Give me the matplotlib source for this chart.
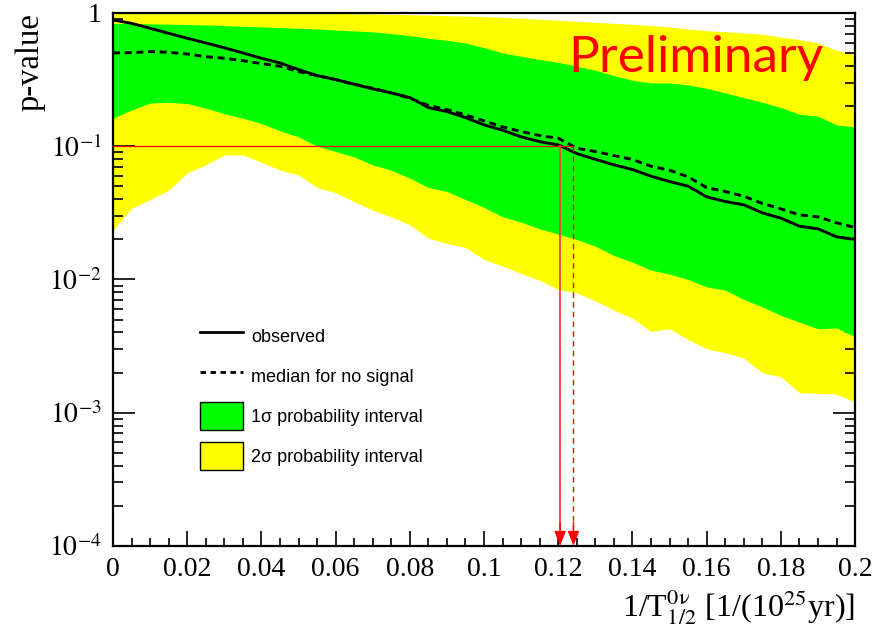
import numpy as np
import matplotlib
matplotlib.use("Agg")
import matplotlib.pyplot as plt
import matplotlib.patches as mpatches
from matplotlib.lines import Line2D

plt.rcParams["mathtext.fontset"] = "stix"
plt.rcParams["font.family"] = ["Liberation Serif", "DejaVu Serif"]

# ── data (log10 of p-value) ─────────────────────────────────────────────────
x = np.array([0.000, 0.005, 0.010, 0.015, 0.020, 0.025, 0.030, 0.035, 0.040,
              0.045, 0.050, 0.055, 0.060, 0.065, 0.070, 0.075, 0.080, 0.085,
              0.090, 0.095, 0.100, 0.105, 0.110, 0.115, 0.120, 0.125, 0.130,
              0.135, 0.140, 0.145, 0.150, 0.155, 0.160, 0.165, 0.170, 0.175,
              0.180, 0.185, 0.190, 0.195, 0.200])

obs_log = [-0.053, -0.078, -0.115, -0.153, -0.19, -0.225, -0.262, -0.30, -0.34,
           -0.375, -0.425, -0.47, -0.50, -0.535, -0.57, -0.60, -0.635, -0.71,
           -0.74, -0.785, -0.84, -0.88, -0.93, -0.966, -0.99, -1.055, -1.098,
           -1.14, -1.175, -1.225, -1.265, -1.30, -1.38, -1.415, -1.44, -1.50,
           -1.54, -1.60, -1.62, -1.68, -1.70]

med_log = [-0.30, -0.298, -0.29, -0.295, -0.308, -0.328, -0.34, -0.358, -0.38,
           -0.40, -0.44, -0.47, -0.50, -0.535, -0.565, -0.60, -0.64, -0.695,
           -0.725, -0.765, -0.81, -0.855, -0.89, -0.92, -0.94, -1.015, -1.04,
           -1.07, -1.10, -1.15, -1.18, -1.23, -1.31, -1.34, -1.375, -1.43,
           -1.47, -1.515, -1.53, -1.575, -1.61]

hi1_log = [-0.079, -0.08, -0.082, -0.084, -0.087, -0.09, -0.095, -0.10, -0.105,
           -0.11, -0.115, -0.12, -0.128, -0.135, -0.142, -0.155, -0.17, -0.19,
           -0.205, -0.225, -0.26, -0.30, -0.325, -0.35, -0.37, -0.40, -0.43,
           -0.47, -0.505, -0.525, -0.525, -0.54, -0.565, -0.60, -0.635, -0.67,
           -0.71, -0.76, -0.775, -0.84, -0.855]

lo1_log = [-0.79, -0.728, -0.676, -0.67, -0.68, -0.715, -0.755, -0.79, -0.83,
           -0.885, -0.93, -1.0, -1.04, -1.08, -1.14, -1.18, -1.24, -1.31,
           -1.34, -1.40, -1.46, -1.53, -1.57, -1.62, -1.66, -1.70, -1.75,
           -1.82, -1.87, -1.93, -1.96, -2.00, -2.056, -2.08, -2.15, -2.206,
           -2.27, -2.32, -2.37, -2.364, -2.43]

hi2_log = [0.0, 0.0, -0.001, -0.001, -0.002, -0.002, -0.002, -0.003, -0.003,
           -0.003, -0.003, -0.003, -0.004, -0.006, -0.008, -0.01, -0.013, -0.016,
           -0.02, -0.023, -0.027, -0.033, -0.04, -0.047, -0.055, -0.062, -0.07,
           -0.078, -0.085, -0.095, -0.105, -0.12, -0.133, -0.14, -0.15, -0.16,
           -0.18, -0.20, -0.225, -0.28, -0.31]

lo2_log = [-1.63, -1.466, -1.40, -1.33, -1.20, -1.14, -1.066, -1.066, -1.12,
           -1.18, -1.216, -1.31, -1.35, -1.416, -1.48, -1.53, -1.59, -1.69,
           -1.73, -1.76, -1.85, -1.90, -1.955, -2.006, -2.076, -2.10, -2.16,
           -2.23, -2.29, -2.39, -2.37, -2.45, -2.52, -2.55, -2.59, -2.70,
           -2.73, -2.85, -2.855, -2.86, -2.92]

p_threshold = 0.1
x_obs_limit = 0.1205
x_med_limit = 0.1241

xticks = [0, 0.02, 0.04, 0.06, 0.08, 0.1, 0.12, 0.14, 0.16, 0.18, 0.2]
xtick_labels = ["0", "0.02", "0.04", "0.06", "0.08", "0.1", "0.12", "0.14",
                "0.16", "0.18", "0.2"]
yticks = [1e-4, 1e-3, 1e-2, 1e-1, 1]
ytick_labels = ["$10^{-4}$", "$10^{-3}$", "$10^{-2}$", "$10^{-1}$", "1"]

legend_labels = ["observed", "median for no signal",
                 "1\u03c3 probability interval", "2\u03c3 probability interval"]

GREEN = "#00ff00"
YELLOW = "#ffff00"
RED = "#ff0000"

# ── figure ──────────────────────────────────────────────────────────────────
fig = plt.figure(figsize=(8.88, 6.29), dpi=100)
ax = fig.add_axes([0.1273, 0.132, 0.8356, 0.8474])

ax.fill_between(x, 10 ** np.array(lo2_log), 10 ** np.array(hi2_log),
                color=YELLOW, lw=0, zorder=1)
ax.fill_between(x, 10 ** np.array(lo1_log), 10 ** np.array(hi1_log),
                color=GREEN, lw=0, zorder=2)
ax.plot(x, 10 ** np.array(obs_log), color="black", lw=2.1, zorder=4)
ax.plot(x, 10 ** np.array(med_log), color="black", lw=2.1,
        linestyle=(0, (2.4, 1.6)), zorder=4)

# red threshold lines + arrows
ax.plot([0, x_med_limit], [p_threshold, p_threshold], color=RED, lw=0.9, zorder=5)
ax.plot([x_obs_limit, x_obs_limit], [p_threshold, 1.35e-4], color="#ff4040",
        lw=1.3, zorder=5)
ax.plot([x_med_limit, x_med_limit], [p_threshold, 1.35e-4], color=RED,
        lw=1.0, linestyle=(0, (4, 3)), zorder=5)
for xl in (x_obs_limit, x_med_limit):
    ax.annotate("", xy=(xl, 1e-4), xytext=(xl, 1.5e-4),
                arrowprops=dict(arrowstyle="-|>,head_length=0.9,head_width=0.35",
                                color=RED, lw=1.0, shrinkA=0, shrinkB=0),
                zorder=6, annotation_clip=False)

ax.set_xlim(0, 0.2)
ax.set_yscale("log")
ax.set_ylim(1e-4, 1)

ax.set_xticks(xticks)
ax.set_xticklabels(xtick_labels, fontsize=20)
ax.xaxis.set_minor_locator(matplotlib.ticker.MultipleLocator(0.005))
ax.set_yticks(yticks)
ax.set_yticklabels(ytick_labels, fontsize=20)
ax.yaxis.set_minor_locator(matplotlib.ticker.LogLocator(base=10, subs=np.arange(2, 10)))
ax.yaxis.set_minor_formatter(matplotlib.ticker.NullFormatter())

ax.tick_params(axis="y", which="both", direction="in", left=True, right=True, width=1.2)
ax.tick_params(axis="y", which="major", length=16, pad=8)
ax.tick_params(axis="y", which="minor", length=7.5)
ax.tick_params(axis="x", which="both", direction="in", bottom=True, top=False, width=1.2)
ax.tick_params(axis="x", which="major", length=11, pad=8)
ax.tick_params(axis="x", which="minor", length=5.5)

for sp in ax.spines.values():
    sp.set_linewidth(1.6)
    sp.set_zorder(10)

ax.set_xlabel("1/T$^{0\\mathrm{\\nu}}_{1/2}$ [1/(10$^{25}$yr)]", fontsize=23,
              loc="right", labelpad=4)
ax.set_ylabel("p-value", fontsize=23.5, loc="top", labelpad=3)

# "Preliminary" watermark
ax.text(0.785, 0.889, "Preliminary", transform=ax.transAxes, color=RED,
        fontsize=37, family="Lato", fontweight="normal", ha="center",
        va="baseline", zorder=7)

# legend
handles = [
    Line2D([], [], color="black", lw=2.0),
    Line2D([], [], color="black", lw=2.0, linestyle=(0, (2.0, 1.6))),
    mpatches.Patch(facecolor=GREEN, edgecolor="black", lw=1.0),
    mpatches.Patch(facecolor=YELLOW, edgecolor="black", lw=1.0),
]
fig.legend(handles, legend_labels, loc="upper left",
           bbox_to_anchor=(200 / 888, 1 - 322 / 629), bbox_transform=fig.transFigure,
           frameon=False, borderpad=0, borderaxespad=0,
           prop={"family": "Liberation Sans", "size": 13},
           handlelength=2.39, handleheight=2.015, labelspacing=0.667,
           handletextpad=0.44)

fig.savefig("out.png", dpi=100)
plt.close(fig)
